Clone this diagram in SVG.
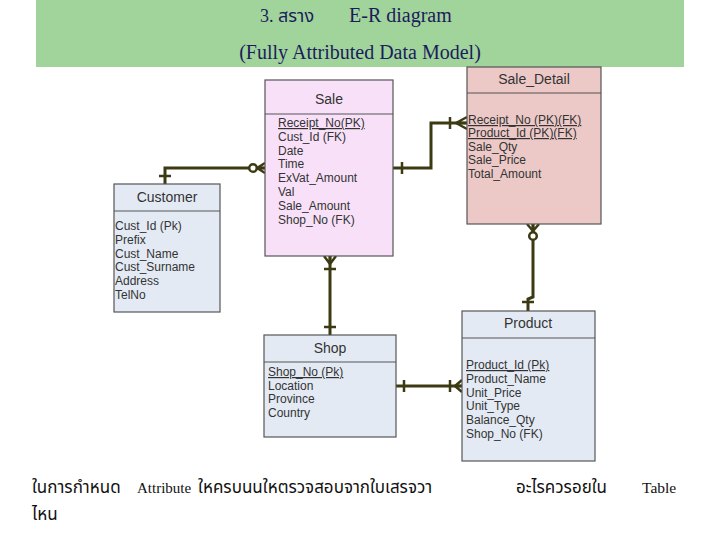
<svg xmlns="http://www.w3.org/2000/svg" width="720" height="540" viewBox="0 0 720 540">
<style>
.box{stroke:#555;stroke-width:1.2}
.hd{font-family:"Liberation Sans",Arial,sans-serif;font-size:14px;fill:#333;text-anchor:middle}
.at{font-family:"Liberation Sans",Arial,sans-serif;font-size:12px;fill:#333}
.u{text-decoration:underline}
.ln{fill:none;stroke:#3b3a12;stroke-width:3}
.mk{fill:none;stroke:#3b3a12;stroke-width:2.5}
.ci{fill:#fff;stroke:#3b3a12;stroke-width:2.5}
.tt{font-family:"Liberation Serif","Noto Sans Thai","DejaVu Serif",serif;font-size:20px;fill:#1c1c5c}
.th{font-family:"Liberation Serif","Noto Sans Thai","DejaVu Serif",serif;font-size:17px;fill:#111}
</style>
<rect width="720" height="540" fill="#fff"/>
<g id="header">
<rect x="36" y="0" width="648" height="67" fill="#a0d49b"/>
<text class="tt" x="260" y="22" style="font-size:18px">3. สราง</text>
<text class="tt" x="349" y="22">E-R diagram</text>
<text class="tt" x="360" y="59" text-anchor="middle">(Fully Attributed Data Model)</text>
</g>
<g id="connectors">
<!-- Customer - Sale -->
<polyline class="ln" points="165,184 165,168 265,168"/>
<line class="mk" x1="159" y1="176" x2="171" y2="176"/>
<circle class="ci" cx="253" cy="168" r="3.8"/>
<path class="mk" d="M257,168 L265,163 M257,168 L265,168 M257,168 L265,173"/>
<!-- Sale - Sale_Detail -->
<polyline class="ln" points="393,168 431,168 431,123 467,123"/>
<line class="mk" x1="402" y1="162" x2="402" y2="174"/>
<line class="mk" x1="450" y1="117" x2="450" y2="129"/>
<path class="mk" d="M456,123 L467,117 M456,123 L467,123 M456,123 L467,129"/>
<!-- Sale - Shop -->
<line class="ln" x1="330" y1="256" x2="330" y2="335"/>
<path class="mk" d="M330,264 L324,256 M330,264 L330,256 M330,264 L336,256"/>
<line class="mk" x1="324" y1="269" x2="336" y2="269"/>
<line class="mk" x1="324" y1="327" x2="336" y2="327"/>
<!-- Sale_Detail - Product -->
<polyline class="ln" points="533,224 533,297 528,299 528,311"/>
<path class="mk" d="M533,231 L527,224 M533,231 L533,224 M533,231 L539,224"/>
<circle class="ci" cx="533" cy="236" r="3.8"/>
<line class="mk" x1="522" y1="302" x2="534" y2="302"/>
<!-- Shop - Product -->
<line class="ln" x1="396" y1="386" x2="462" y2="386"/>
<line class="mk" x1="404" y1="380" x2="404" y2="392"/>
<line class="mk" x1="450" y1="380" x2="450" y2="392"/>
<path class="mk" d="M455,386 L462,380 M455,386 L462,386 M455,386 L462,392"/>
</g>
<g id="sale">
<rect class="box" x="265" y="80" width="128" height="176" fill="#f8e1f8"/>
<line class="box" x1="265" y1="114" x2="393" y2="114"/>
<text class="hd" x="329" y="104">Sale</text>
<text class="at u" x="278" y="127">Receipt_No(PK)</text>
<text class="at" x="278" y="141">Cust_Id (FK)</text>
<text class="at" x="278" y="155">Date</text>
<text class="at" x="278" y="168">Time</text>
<text class="at" x="278" y="182">ExVat_Amount</text>
<text class="at" x="278" y="196">Val</text>
<text class="at" x="278" y="210">Sale_Amount</text>
<text class="at" x="278" y="224">Shop_No (FK)</text>
</g>
<g id="sale_detail">
<rect class="box" x="467" y="67" width="134" height="157" fill="#ecc9c7"/>
<line class="box" x1="467" y1="93" x2="601" y2="93"/>
<text class="hd" x="534" y="84">Sale_Detail</text>
<text class="at u" x="468" y="124">Receipt_No (PK)(FK)</text>
<text class="at u" x="468" y="137">Product_Id (PK)(FK)</text>
<text class="at" x="468" y="151">Sale_Qty</text>
<text class="at" x="468" y="164">Sale_Price</text>
<text class="at" x="468" y="178">Total_Amount</text>
</g>
<g id="customer">
<rect class="box" x="114" y="184" width="106" height="128" fill="#e4eaf4"/>
<line class="box" x1="114" y1="211" x2="220" y2="211"/>
<text class="hd" x="167" y="202">Customer</text>
<text class="at" x="115" y="230">Cust_Id (Pk)</text>
<text class="at" x="115" y="244">Prefix</text>
<text class="at" x="115" y="258">Cust_Name</text>
<text class="at" x="115" y="271">Cust_Surname</text>
<text class="at" x="115" y="285">Address</text>
<text class="at" x="115" y="299">TelNo</text>
</g>
<g id="shop">
<rect class="box" x="264" y="335" width="132" height="102" fill="#e4eaf4"/>
<line class="box" x1="264" y1="362" x2="396" y2="362"/>
<text class="hd" x="330" y="353">Shop</text>
<text class="at u" x="268" y="376">Shop_No (Pk)</text>
<text class="at" x="268" y="390">Location</text>
<text class="at" x="268" y="403">Province</text>
<text class="at" x="268" y="417">Country</text>
</g>
<g id="product">
<rect class="box" x="462" y="311" width="133" height="150" fill="#e4eaf4"/>
<line class="box" x1="462" y1="338" x2="595" y2="338"/>
<text class="hd" x="528" y="328">Product</text>
<text class="at u" x="466" y="369">Product_Id (Pk)</text>
<text class="at" x="466" y="383">Product_Name</text>
<text class="at" x="466" y="397">Unit_Price</text>
<text class="at" x="466" y="410">Unit_Type</text>
<text class="at" x="466" y="424">Balance_Qty</text>
<text class="at" x="466" y="438">Shop_No (FK)</text>
</g>
<g id="note">
<text class="th" x="32" y="493">ในการกำหนด</text>
<text class="th" x="137" y="493" style="font-size:15px">Attribute</text>
<text class="th" x="198" y="493">ใหครบนนใหตรวจสอบจากใบเสรจวา</text>
<text class="th" x="516" y="493">อะไรควรอยใน</text>
<text class="th" x="642" y="493" style="font-size:15.5px">Table</text>
<text class="th" x="32" y="520">ไหน</text>
</g>
</svg>
